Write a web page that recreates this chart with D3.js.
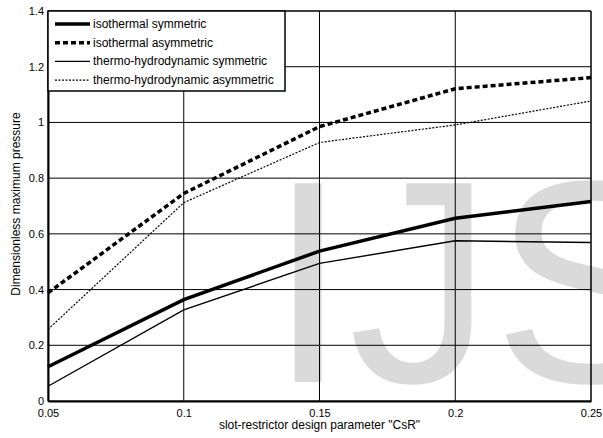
<!DOCTYPE html>
<html>
<head>
<meta charset="utf-8">
<script src="https://cdn.jsdelivr.net/npm/d3@7"></script>
<style>
  body { margin: 0; background: #fff; }
  text { font-family: "Liberation Sans", Arial, sans-serif; }
</style>
</head>
<body>
<div id="chart"></div>
<script>
// chart data
var csr = [0.05, 0.1, 0.15, 0.2, 0.25];
var isoSym = [0.123, 0.364, 0.538, 0.656, 0.716];
var isoAsym = [0.388, 0.745, 0.985, 1.121, 1.161];
var thdSym = [0.053, 0.327, 0.494, 0.575, 0.569];
var thdAsym = [0.257, 0.712, 0.928, 0.991, 1.077];
var seriesNames = ["isothermal symmetric", "isothermal asymmetric", "thermo-hydrodynamic symmetric", "thermo-hydrodynamic asymmetric"];
var xTicks = [0.05, 0.1, 0.15, 0.2, 0.25];
var yTicks = [0, 0.2, 0.4, 0.6, 0.8, 1, 1.2, 1.4];

var svgWidth = 603, svgHeight = 438;
var margin = { top: 11, right: 12, bottom: 37, left: 48 };
var chartWidth = svgWidth - margin.left - margin.right;
var chartHeight = svgHeight - margin.top - margin.bottom;

var svg = d3.select("#chart").append("svg")
    .attr("width", svgWidth)
    .attr("height", svgHeight);

//watermark behind everything
svg.append("text")
    .attr("x", 268)
    .attr("y", 382)
    .attr("font-size", 289)
    .attr("fill", "#dadada")
    .text("IJS");

var chartGroup = svg.append("g")
    .attr("transform", `translate(${margin.left}, ${margin.top})`);

var x = d3.scaleLinear().domain([0.05, 0.25]).range([0, chartWidth]);
var y = d3.scaleLinear().domain([0, 1.4]).range([chartHeight, 0]);

//grid
chartGroup.append("g").selectAll("line").data(yTicks).enter().append("line")
    .attr("x1", 0).attr("x2", chartWidth)
    .attr("y1", d => y(d)).attr("y2", d => y(d))
    .attr("stroke", "#000").attr("stroke-width", 1);
chartGroup.append("g").selectAll("line").data(xTicks).enter().append("line")
    .attr("x1", d => x(d)).attr("x2", d => x(d))
    .attr("y1", 0).attr("y2", chartHeight)
    .attr("stroke", "#000").attr("stroke-width", 1);

//axes
var bottomAxis = d3.axisBottom(x).tickValues(xTicks).tickFormat(d3.format("")).tickSize(0).tickPadding(8);
var leftAxis = d3.axisLeft(y).tickValues(yTicks).tickFormat(d3.format("")).tickSize(0).tickPadding(4);

var gx = chartGroup.append("g")
    .attr("transform", `translate(0, ${chartHeight})`)
    .call(bottomAxis);
var gy = chartGroup.append("g").call(leftAxis);
[gx, gy].forEach(function(g) {
    g.select(".domain").attr("stroke", "#000").attr("stroke-width", 2);
    g.selectAll("text").attr("font-size", 11).attr("fill", "#000")
        .attr("font-family", "Liberation Sans, Arial, sans-serif");
});

//top & right box edges
chartGroup.append("line").attr("x1", 0).attr("x2", chartWidth).attr("y1", 0).attr("y2", 0)
    .attr("stroke", "#000");
chartGroup.append("line").attr("x1", chartWidth).attr("x2", chartWidth).attr("y1", 0).attr("y2", chartHeight)
    .attr("stroke", "#000");

//series
var styles = [
    { values: isoSym, width: 3.5, dash: null },
    { values: isoAsym, width: 3.5, dash: "5,3" },
    { values: thdSym, width: 1.4, dash: null },
    { values: thdAsym, width: 1.2, dash: "2,1.5" }
];

var line = d3.line()
    .x((d, i) => x(csr[i]))
    .y(d => y(d));

styles.forEach(function(s) {
    chartGroup.append("path")
        .datum(s.values)
        .attr("d", line)
        .attr("fill", "none")
        .attr("stroke", "#000")
        .attr("stroke-width", s.width)
        .attr("stroke-dasharray", s.dash);
});

//legend
var legend = chartGroup.append("g");
legend.append("rect")
    .attr("x", 0).attr("y", 0)
    .attr("width", 237).attr("height", 80)
    .attr("fill", "#fff")
    .attr("stroke", "#000")
    .attr("stroke-width", 1.5);

seriesNames.forEach(function(name, i) {
    var ly = 13 + i * 18.7;
    legend.append("line")
        .attr("x1", 7).attr("x2", 42)
        .attr("y1", ly).attr("y2", ly)
        .attr("stroke", "#000")
        .attr("stroke-width", styles[i].width)
        .attr("stroke-dasharray", styles[i].dash);
    legend.append("text")
        .attr("x", 45).attr("y", ly + 4)
        .attr("font-size", 12)
        .text(name);
});

//axis labels
svg.append("text")
    .attr("x", margin.left + chartWidth / 2)
    .attr("y", 429)
    .attr("text-anchor", "middle")
    .attr("font-size", 12)
    .text('slot-restrictor design parameter "CsR"');

svg.append("text")
    .attr("transform", "translate(20, 204) rotate(-90)")
    .attr("text-anchor", "middle")
    .attr("font-size", 12)
    .text("Dimensionless maximum pressure");
</script>
</body>
</html>
